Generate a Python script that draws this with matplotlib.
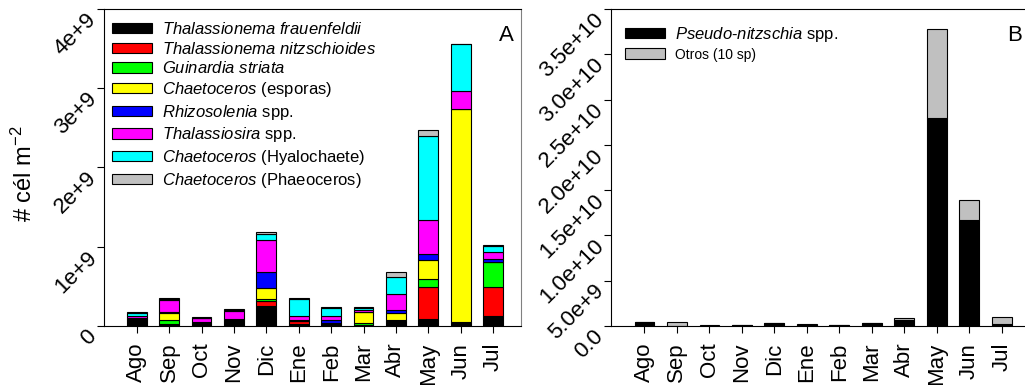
import numpy as np
import matplotlib
matplotlib.use('Agg')
import matplotlib.pyplot as plt

plt.rcParams['font.family'] = ['Liberation Sans', 'DejaVu Sans']
plt.rcParams['mathtext.fontset'] = 'custom'
plt.rcParams['mathtext.rm'] = 'Liberation Sans'
plt.rcParams['mathtext.it'] = 'Liberation Sans:italic'

months = ['Ago', 'Sep', 'Oct', 'Nov', 'Dic', 'Ene', 'Feb', 'Mar', 'Abr', 'May', 'Jun', 'Jul']

# panel A, cells m-2 (x1e9)
t_frauenfeldii = [0.065, 0.025, 0.020, 0.055, 0.252, 0.030, 0.020, 0.008, 0.055, 0.084, 0.034, 0.126]
t_nitzschioides = [0.015, 0.005, 0.020, 0.012, 0.063, 0.035, 0.015, 0.004, 0.005, 0.410, 0.000, 0.370]
g_striata = [0.003, 0.040, 0.003, 0.005, 0.025, 0.003, 0.003, 0.030, 0.020, 0.093, 0.020, 0.315]
chaeto_esporas = [0.003, 0.100, 0.003, 0.012, 0.135, 0.003, 0.002, 0.130, 0.085, 0.244, 2.690, 0.000]
rhizosolenia = [0.010, 0.003, 0.005, 0.010, 0.210, 0.010, 0.030, 0.008, 0.042, 0.072, 0.000, 0.030]
thalassiosira = [0.030, 0.160, 0.045, 0.095, 0.400, 0.045, 0.050, 0.020, 0.200, 0.440, 0.227, 0.093]
chaeto_hyalo = [0.035, 0.010, 0.003, 0.010, 0.070, 0.220, 0.105, 0.030, 0.210, 1.060, 0.593, 0.076]
chaeto_phaeo = [0.015, 0.010, 0.010, 0.020, 0.025, 0.010, 0.010, 0.012, 0.070, 0.067, 0.000, 0.008]

# panel B (x1e9)
pseudo_nitzschia = [0.42, 0.05, 0.03, 0.14, 0.36, 0.06, 0.11, 0.36, 0.70, 23.0, 11.7, 0.22]
otros = [0.02, 0.43, 0.07, 0.01, 0.01, 0.14, 0.01, 0.01, 0.18, 9.8, 2.25, 0.74]

series_a = [t_frauenfeldii, t_nitzschioides, g_striata, chaeto_esporas,
            rhizosolenia, thalassiosira, chaeto_hyalo, chaeto_phaeo]
labels_a = [r'$\it{Thalassionema\ frauenfeldii}$',
            r'$\it{Thalassionema\ nitzschioides}$',
            r'$\it{Guinardia\ striata}$',
            r'$\it{Chaetoceros}$ (esporas)',
            r'$\it{Rhizosolenia}$ spp.',
            r'$\it{Thalassiosira}$ spp.',
            r'$\it{Chaetoceros}$ (Hyalochaete)',
            r'$\it{Chaetoceros}$ (Phaeoceros)']
colors_a = ['#000000', '#ff0000', '#00ff00', '#ffff00', '#0000ff', '#ff00ff', '#00ffff', '#c0c0c0']

fig = plt.figure(figsize=(10.25, 3.85), dpi=100)
axA = fig.add_axes([104/1025, 1-326/385, 417/1025, 317/385])
axB = fig.add_axes([611/1025, 1-326/385, 420/1025, 317/385])

x = np.arange(len(months))
w = 0.61

bottom = np.zeros(len(months))
for vals, lab, col in zip(series_a, labels_a, colors_a):
    v = np.array(vals) * 1e9
    axA.bar(x, v, w, bottom=bottom, color=col, edgecolor='black', linewidth=0.8, label=lab)
    bottom += v

axA.set_xlim(-1.01, 11.86)
axA.set_ylim(0, 4e9)
axA.set_yticks([0, 1e9, 2e9, 3e9, 4e9])
axA.set_yticklabels(['0', '1e+9', '2e+9', '3e+9', '4e+9'])
axA.set_ylabel('# cél m$^{\\mathregular{-2}}$', fontsize=17)
axA.yaxis.set_label_coords(-0.16, 0.48)
axA.text(0.965, 0.915, 'A', transform=axA.transAxes, fontsize=16, ha='center', va='center')
legA = axA.legend(loc='upper left', bbox_to_anchor=(0.02, 0.962), frameon=False, fontsize=12,
                  handlelength=2.4, handleheight=0.6, handletextpad=0.6, labelspacing=0.22,
                  borderpad=0, borderaxespad=0)

p = np.array(pseudo_nitzschia) * 1e9
o = np.array(otros) * 1e9
axB.bar(x, p, w, color='black', edgecolor='black', linewidth=0.8, label=r'$\it{Pseudo}$-$\it{nitzschia}$ spp.')
axB.bar(x, o, w, bottom=p, color='#c0c0c0', edgecolor='black', linewidth=0.8, label='Otros (10 sp)')
axB.set_xlim(-1.03, 11.9)
axB.set_ylim(0, 3.5e10)
axB.set_yticks(np.arange(0, 3.6e10, 5e9))
axB.set_yticklabels(['0.0', '5.0e+9', '1.0e+10', '1.5e+10', '2.0e+10', '2.5e+10', '3.0e+10', '3.5e+10'])
axB.text(0.96, 0.915, 'B', transform=axB.transAxes, fontsize=16, ha='center', va='center')
legB = axB.legend(loc='upper left', bbox_to_anchor=(0.034, 0.95), frameon=False, fontsize=12,
                  handlelength=2.4, handleheight=0.6, handletextpad=0.6, labelspacing=0.25,
                  borderpad=0, borderaxespad=0)
legB.get_texts()[1].set_fontsize(10)

for ax in (axA, axB):
    ax.set_xticks(x)
    ax.set_xticklabels(months, rotation=90)
    ax.tick_params(axis='both', direction='out', length=5, width=0.8)
    ax.tick_params(axis='x', labelsize=16, pad=7)
    ax.tick_params(axis='y', labelsize=16, pad=8)
    for lab in ax.get_yticklabels():
        lab.set_rotation(45)
        lab.set_rotation_mode('anchor')
        lab.set_ha('right')
        lab.set_va('top')
    for s in ax.spines.values():
        s.set_linewidth(0.8)
axA.spines['right'].set_color('#808080')
axB.spines['right'].set_visible(False)

fig.savefig('out.png', dpi=100)
